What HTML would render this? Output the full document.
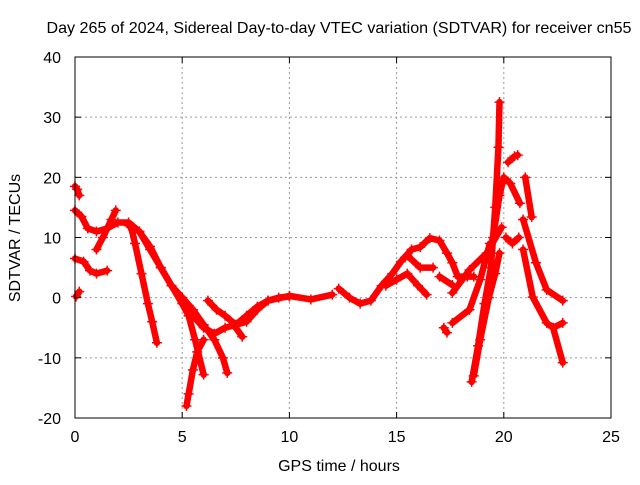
<!DOCTYPE html>
<html><head><meta charset="utf-8"><style>
html,body{margin:0;padding:0;background:#fff}
svg text{font-family:"Liberation Sans",sans-serif;fill:#000}
</style></head><body>
<svg id="c" width="640" height="480" xmlns="http://www.w3.org/2000/svg">
<rect width="640" height="480" fill="#fff"/>
<text x="339" y="33" font-size="16" textLength="585" lengthAdjust="spacingAndGlyphs" text-anchor="middle">Day 265 of 2024, Sidereal Day-to-day VTEC variation (SDTVAR) for receiver cn55</text>
<text x="339" y="471" font-size="16" text-anchor="middle">GPS time / hours</text>
<text transform="translate(20,238) rotate(-90)" font-size="16" text-anchor="middle">SDTVAR / TECUs</text>
<g id="grid"></g><g id="marks"></g><g id="axes"></g>
</svg>
<script>
const xTicks=[0,5,10,15,20,25];
const yTicks=[-20,-10,0,10,20,30,40];
const trackA=[[0,18.5],[0.1,18],[0.2,17]];
const trackB=[[0,14.5],[0.3,13.5],[0.6,11.5],[1,11],[1.5,11.5],[2,12.5],[2.5,12.5],[3,11],[3.5,8],[4,5],[4.5,2],[5,0],[5.5,-3],[6,-5],[6.5,-6],[7,-5],[7.5,-4.5],[8,-3],[8.5,-1.5],[9,-0.5],[10,0.3],[11,-0.3],[12,0.5]];
const trackC=[[1,8],[1.3,10],[1.7,13],[1.9,14.5]];
const trackD=[[0,6.5],[0.4,6],[0.7,4.5],[1,4],[1.5,4.5]];
const trackE=[[0.05,0.2],[0.2,1]];
const trackF=[[2.6,12],[2.8,9],[3.1,4],[3.4,-1],[3.6,-4],[3.82,-7.5]];
const trackG=[[2.5,12],[3,11],[3.5,8.5],[4,5],[4.5,2],[5,-1],[5.3,-3],[5.6,-7],[6,-12.8]];
const trackH=[[6,-7],[5.7,-9],[5.5,-12],[5.3,-16],[5.2,-18]];
const trackI=[[5,0],[5.5,-2],[6,-4.5],[6.5,-7],[6.9,-10],[7.1,-12.5]];
const trackJ=[[6.2,-0.5],[6.6,-2],[7,-3],[7.5,-4.5],[8,-4],[8.5,-2],[9,-0.5],[9.5,0],[10,0.2]];
const trackK=[[7.4,-4.5],[7.8,-6.5]];
const trackL=[[12.3,1.5],[12.8,0],[13.3,-1],[13.8,-0.5],[14.3,2],[14.8,4],[15.2,6],[15.7,8],[16.1,8.4],[16.55,9.9],[17,9.5],[17.35,7.4],[17.6,5.8],[17.85,3.5],[18.3,3.5],[18.6,3.5]];
const trackM=[[14.5,2],[15,3],[15.5,4],[16,2],[16.4,0.5]];
const trackN=[[15.5,7],[16.1,5],[16.7,5]];
const trackO=[[17,3.5],[17.6,2.1]];
const trackP=[[17.6,0.8],[18.4,4.6],[19.2,7.4],[19.9,11.7]];
const trackQ=[[17.6,-4.2],[18.4,-2],[18.9,3],[19.35,9]];
const trackR=[[17.2,-5],[17.35,-5.8]];
const trackS=[[18.5,-14],[18.8,-8],[19.1,-1],[19.4,5],[19.6,15],[19.75,25],[19.8,32.5]];
const trackT=[[18.6,-13],[18.9,-7],[19.3,0],[19.6,4],[19.8,7.4]];
const trackU=[[19.5,10],[19.8,17],[20,20],[20.3,19],[20.75,15.7]];
const trackV=[[20.2,22.5],[20.5,23.5],[20.65,23.7]];
const trackW=[[21,20],[21.3,13.4]];
const trackX=[[20.9,13],[21.5,5.8],[22,1.3],[22.75,-0.5]];
const trackY=[[20.9,8],[21.35,0.1],[22,-4.2],[22.3,-5],[22.75,-10.8]];
const trackZ=[[20.1,10],[20.4,9],[20.7,10]];
const trackAA=[[22.3,-5],[22.75,-4.2]];
const tracks=[trackA,trackB,trackC,trackD,trackE,trackF,trackG,trackH,trackI,trackJ,trackK,trackL,trackM,trackN,trackO,trackP,trackQ,trackR,trackS,trackT,trackU,trackV,trackW,trackX,trackY,trackZ,trackAA];
const L=75,R=611,T=57,B=418;
const sx=h=>L+(h-0)/25*(R-L);
const sy=v=>B-(v+20)/60*(B-T);
const NS="http://www.w3.org/2000/svg";
function mk(tag,attrs,parent){const e=document.createElementNS(NS,tag);for(const k in attrs)e.setAttribute(k,attrs[k]);parent.appendChild(e);return e;}
const grid=document.getElementById('grid'),marks=document.getElementById('marks'),axes=document.getElementById('axes');
xTicks.forEach(t=>{
 if(t>0&&t<25){const g=mk('line',{x1:sx(t),x2:sx(t),y1:T,y2:B,stroke:'#999','stroke-dasharray':'2,3'},grid);
 
 }
 const a=mk('line',{x1:sx(t),x2:sx(t),y1:B,y2:B-6,stroke:'#000'},axes);
 
 
 mk('line',{x1:sx(t),x2:sx(t),y1:T,y2:T+6,stroke:'#000'},axes);
 const tx=mk('text',{x:sx(t),y:B+24,'font-size':'16','text-anchor':'middle'},axes);tx.textContent=t;
 
 
});
yTicks.forEach(t=>{
 if(t>-20&&t<40){const g=mk('line',{x1:L,x2:R,y1:sy(t),y2:sy(t),stroke:'#999','stroke-dasharray':'2,3'},grid);
 
 }
 const a=mk('line',{x1:L,x2:L+6,y1:sy(t),y2:sy(t),stroke:'#000'},axes);
 
 
 mk('line',{x1:R,x2:R-6,y1:sy(t),y2:sy(t),stroke:'#000'},axes);
 const tx=mk('text',{x:L-14,y:sy(t)+6,'font-size':'16','text-anchor':'end'},axes);tx.textContent=t;
 
 
});
const fr=mk('rect',{x:L,y:T,width:R-L,height:B-T,fill:'none',stroke:'#000','stroke-width':'1'},axes);


tracks.forEach(tr=>{
 const p=mk('polyline',{points:tr.map(d=>sx(d[0])+','+sy(d[1])).join(' '),fill:'none',stroke:'#f00','stroke-width':'6.5','stroke-linejoin':'round','stroke-linecap':'round'},marks);
 
 
 tr.forEach(d=>{
  const x=sx(d[0]),y=sy(d[1]);
  const m=mk('path',{d:`M${x-5},${y}H${x+5}M${x},${y-5}V${y+5}`,stroke:'#f00','stroke-width':'1.5'},marks);
  
  
 });
});
</script>
</body></html>
